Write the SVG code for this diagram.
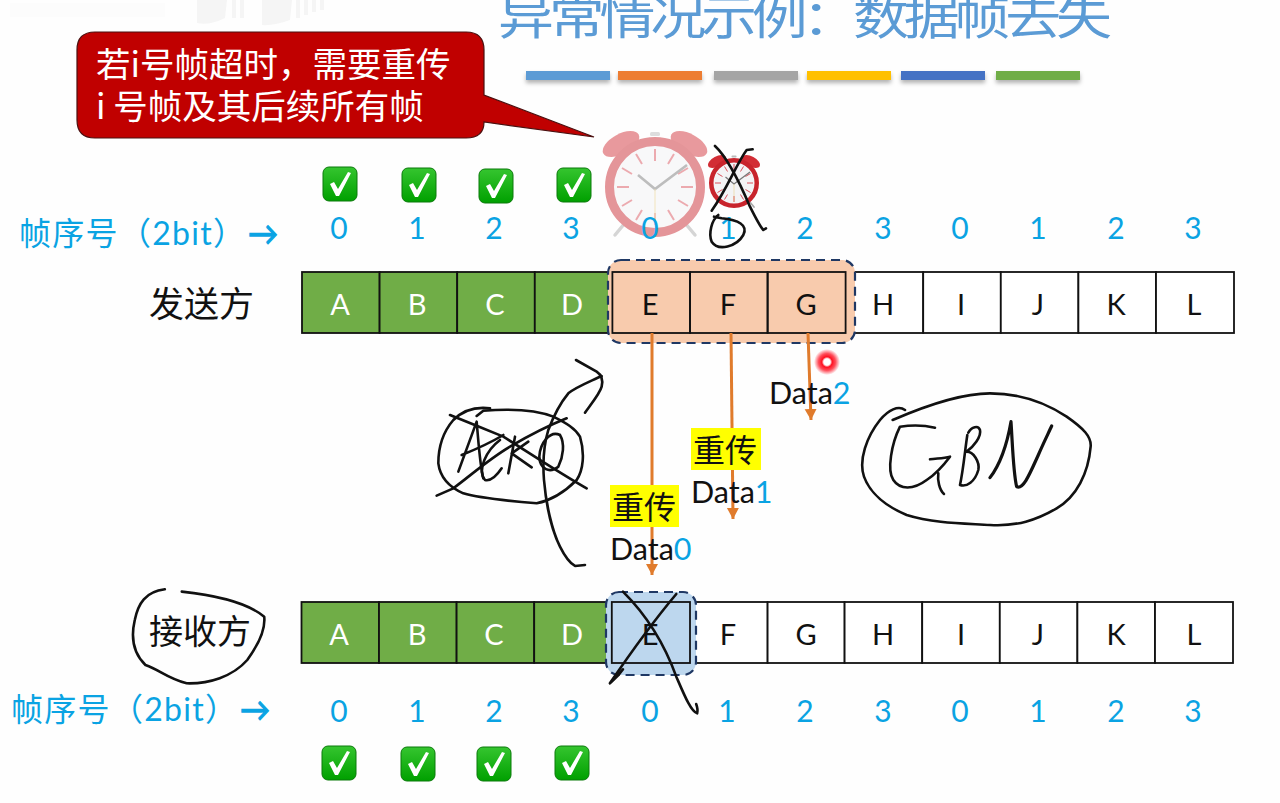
<svg xmlns="http://www.w3.org/2000/svg" xmlns:xlink="http://www.w3.org/1999/xlink" width="1280" height="803" viewBox="0 0 1280 803">
<style>
text{font-family:"Lato","Noto Sans CJK SC",sans-serif}
.cjk{font-family:"Noto Sans CJK SC",sans-serif}
.cell{stroke:#111;stroke-width:1.8;fill:#fff}
.g{fill:#70AD47}
.o{fill:none}
.lw{font-size:29px;fill:#fff;text-anchor:middle}
.lb{font-size:29px;fill:#111;text-anchor:middle}
.n{font-size:30px;fill:#0AA3E3;text-anchor:middle}
.d{font-size:30.5px;fill:#111}
.d tspan{fill:#0AA3E3}
.sq{font-size:32px;fill:#0AA3E3}
.sa{font-size:32px;fill:#0AA3E3;stroke:#0AA3E3;stroke-width:1.2}
.ink{fill:none;stroke:#111;stroke-width:2.6;stroke-linecap:round;stroke-linejoin:round;vector-effect:non-scaling-stroke}
.ar{stroke:#E07B2C;stroke-width:3;fill:none;marker-end:url(#ah)}
.bar{filter:url(#sh)}
.dash{stroke:#1F3864;stroke-width:2.2;stroke-dasharray:9 6}
</style>
<defs>
<marker id="ah" markerUnits="userSpaceOnUse" markerWidth="14" markerHeight="14" refX="11" refY="6" orient="auto"><path d="M0,0L11,6L0,12z" fill="#E07B2C"/></marker>
<filter id="sh" x="-10%" y="-40%" width="120%" height="220%"><feDropShadow dx="0" dy="3" stdDeviation="2" flood-color="#000" flood-opacity=".3"/></filter>
<linearGradient id="chkg" x1="0" y1="0" x2="0" y2="1"><stop offset="0" stop-color="#35C52F"/><stop offset="1" stop-color="#00A000"/></linearGradient>
<radialGradient id="dot"><stop offset="0" stop-color="#fff"/><stop offset=".25" stop-color="#fff"/><stop offset=".4" stop-color="#FF1020"/><stop offset=".65" stop-color="#FF2030" stop-opacity=".8"/><stop offset="1" stop-color="#FF2030" stop-opacity="0"/></radialGradient>
<g id="chk"><rect x="0" y="0" width="34" height="34" rx="6" fill="url(#chkg)" stroke="#0A7A0A" stroke-width="1"/><path d="M7,17 L11,15 L15,22 L25,5 L28,6 L16,29 L13,29z" fill="#fff"/></g>
<g id="clock">
<ellipse cx="-34" cy="-43" rx="20" ry="10" transform="rotate(-28 -34 -43)" fill="#D22D35"/>
<ellipse cx="34" cy="-43" rx="20" ry="10" transform="rotate(28 34 -43)" fill="#D22D35"/>
<rect x="-5" y="-55" width="10" height="4" rx="1.5" fill="#bbb"/>
<path d="M-30,36L-40,48M30,36L40,48" stroke="#aaa" stroke-width="3.5" stroke-linecap="round"/>
<circle r="45.5" fill="#F3F3F5" stroke="#C8242C" stroke-width="9"/>
<path d="M0,-38V-26M0,38V26M-38,0H-26M38,0H26M-19,-33L-13,-23M19,-33L13,-23M-33,-19L-23,-13M33,-19L23,-13M-19,33L-13,23M19,33L13,23M-33,19L-23,13M33,19L23,13" stroke="#D9505A" stroke-width="2"/>
<path d="M-17,-12L0,2L32,-22" stroke="#777" stroke-width="2.6" fill="none"/>
<path d="M0,2V38" stroke="#E6C878" stroke-width="1"/>
</g>
</defs>
<rect width="1280" height="803" fill="#FEFEFE"/>
<g id="watermark" fill="#F5F5F5">
<path d="M197,0h30l-2,18q-16,8 -28,5zM232,0h4v18h-4zM240,0h4v18h-4zM262,0h30l-2,20q-16,6 -28,5zM296,0h4v18h-4zM304,0h4v15h-4zM312,0h4v12h-4zM320,0h4v10h-4z"/>
<rect x="10" y="3" width="155" height="14" fill="#FCFCFC"/>
</g>

<g id="title">
<text class="cjk" transform="translate(498,34) scale(1,.85)" x="0" y="0" font-size="56" fill="#5B9BD5" textLength="614" lengthAdjust="spacing">异常情况示例：数据帧去失</text>
<g>
<rect class="bar" x="526" y="71" width="84" height="9" fill="#5B9BD5"/>
<rect class="bar" x="618" y="71" width="84" height="9" fill="#ED7D31"/>
<rect class="bar" x="714" y="71" width="84" height="9" fill="#A5A5A5"/>
<rect class="bar" x="807" y="71" width="84" height="9" fill="#FFC000"/>
<rect class="bar" x="901" y="71" width="84" height="9" fill="#4472C4"/>
<rect class="bar" x="996" y="71" width="84" height="9" fill="#70AD47"/>
</g>
</g>

<g id="callout">
<path d="M95,32H466Q484,32 484,50V95L594,137L484,122Q484,138 466,138H95Q77,138 77,120V50Q77,32 95,32z" fill="#C00000" stroke="#4A1010" stroke-width="1.2"/>
<text class="cjk" x="96" y="77" font-size="34.5" fill="#fff">若i号帧超时，需要重传</text>
<text class="cjk" x="96" y="119" font-size="34.5" fill="#fff">i 号帧及其后续所有帧</text>
</g>

<g id="timer-big" opacity=".48"><use xlink:href="#clock" href="#clock" transform="translate(655,187)"/></g>
<g id="timer-small"><use xlink:href="#clock" href="#clock" transform="translate(734,183) scale(.5)"/></g>

<g id="checks-top">
<use href="#chk" x="323" y="167"/><use href="#chk" x="402" y="168"/><use href="#chk" x="479" y="169"/><use href="#chk" x="557" y="168"/>
</g>

<g id="seq-top">
<text class="sq" x="19" y="245" textLength="226">帧序号（2bit）</text><text class="sa" x="248" y="245" textLength="30" lengthAdjust="spacingAndGlyphs">→</text>
<text class="n" x="339" y="239">0</text><text class="n" x="417" y="239">1</text><text class="n" x="494" y="239">2</text><text class="n" x="571" y="239">3</text><text class="n" x="650" y="239">0</text><text class="n" x="728" y="239">1</text><text class="n" x="805" y="239">2</text><text class="n" x="883" y="239">3</text><text class="n" x="960" y="239">0</text><text class="n" x="1038" y="239">1</text><text class="n" x="1116" y="239">2</text><text class="n" x="1193" y="239">3</text>
</g>

<g id="sender-label"><text class="cjk" x="149" y="317" font-size="35" fill="#111">发送方</text></g>

<g id="sender-frames">
<g id="s-A"><rect class="cell g" x="302" y="272" width="77.6" height="61"/><text class="lw" x="340" y="315">A</text></g>
<g id="s-B"><rect class="cell g" x="379.6" y="272" width="77.6" height="61"/><text class="lw" x="417" y="315">B</text></g>
<g id="s-C"><rect class="cell g" x="457.2" y="272" width="77.6" height="61"/><text class="lw" x="495" y="315">C</text></g>
<g id="s-D"><rect class="cell g" x="534.8" y="272" width="77.6" height="61"/><text class="lw" x="572" y="315">D</text></g>
<g id="s-H"><rect class="cell" x="845.6" y="272" width="77.6" height="61"/></g>
<g id="s-window"><rect x="608" y="260" width="247" height="83" rx="13" fill="#F8CBAD"/></g>
<g id="s-E"><rect class="cell o" x="612.4" y="272" width="77.6" height="61"/><text class="lb" x="650" y="315">E</text></g>
<g id="s-F"><rect class="cell o" x="690" y="272" width="77.6" height="61"/><text class="lb" x="728" y="315">F</text></g>
<g id="s-G"><rect class="cell o" x="767.6" y="272" width="78" height="61"/><text class="lb" x="806" y="315">G</text></g>
<text class="lb" x="883" y="315">H</text>
<g id="s-I"><rect class="cell" x="923.2" y="272" width="77.6" height="61"/><text class="lb" x="961" y="315">I</text></g>
<g id="s-J"><rect class="cell" x="1000.8" y="272" width="77.6" height="61"/><text class="lb" x="1038" y="315">J</text></g>
<g id="s-K"><rect class="cell" x="1078.4" y="272" width="77.6" height="61"/><text class="lb" x="1116" y="315">K</text></g>
<g id="s-L"><rect class="cell" x="1156" y="272" width="78" height="61"/><text class="lb" x="1194" y="315">L</text></g>
<rect class="dash" x="608" y="260" width="247" height="83" rx="13" fill="none"/>
</g>

<g id="receiver-frames">
<g id="r-A"><rect class="cell g" x="301.5" y="602" width="77.6" height="61"/><text class="lw" x="339" y="645">A</text></g>
<g id="r-B"><rect class="cell g" x="379" y="602" width="77.6" height="61"/><text class="lw" x="417" y="645">B</text></g>
<g id="r-C"><rect class="cell g" x="456.6" y="602" width="77.6" height="61"/><text class="lw" x="494" y="645">C</text></g>
<g id="r-D"><rect class="cell g" x="534.2" y="602" width="77.6" height="61"/><text class="lw" x="572" y="645">D</text></g>
<g id="r-F"><rect class="cell" x="690" y="602" width="77.6" height="61"/><text class="lb" x="728" y="645">F</text></g>
<g id="r-window"><rect x="606" y="592" width="90" height="83" rx="13" fill="#BDD7EE"/></g>
<g id="r-E"><rect class="cell o" x="611.8" y="602" width="78.2" height="61"/><text class="lb" x="650" y="645">E</text></g>
<rect class="dash" x="606" y="592" width="90" height="83" rx="13" fill="none"/>
<g id="r-G"><rect class="cell" x="767.6" y="602" width="77" height="61"/><text class="lb" x="806" y="645">G</text></g>
<g id="r-H"><rect class="cell" x="844.6" y="602" width="77.6" height="61"/><text class="lb" x="883" y="645">H</text></g>
<g id="r-I"><rect class="cell" x="922.2" y="602" width="77.6" height="61"/><text class="lb" x="961" y="645">I</text></g>
<g id="r-J"><rect class="cell" x="999.8" y="602" width="77.6" height="61"/><text class="lb" x="1038" y="645">J</text></g>
<g id="r-K"><rect class="cell" x="1077.4" y="602" width="77.6" height="61"/><text class="lb" x="1116" y="645">K</text></g>
<g id="r-L"><rect class="cell" x="1155" y="602" width="78" height="61"/><text class="lb" x="1194" y="645">L</text></g>
</g>

<g id="receiver-label"><text class="cjk" x="149" y="644" font-size="34" fill="#111">接收方</text></g>

<g id="seq-bottom">
<text class="sq" x="11" y="721" textLength="226">帧序号（2bit）</text><text class="sa" x="240" y="721" textLength="30" lengthAdjust="spacingAndGlyphs">→</text>
<text class="n" x="339" y="722">0</text><text class="n" x="417" y="722">1</text><text class="n" x="494" y="722">2</text><text class="n" x="571" y="722">3</text><text class="n" x="650" y="722">0</text><text class="n" x="727" y="722">1</text><text class="n" x="805" y="722">2</text><text class="n" x="883" y="722">3</text><text class="n" x="960" y="722">0</text><text class="n" x="1038" y="722">1</text><text class="n" x="1116" y="722">2</text><text class="n" x="1193" y="722">3</text>
</g>

<g id="checks-bottom">
<use href="#chk" x="322" y="746"/><use href="#chk" x="401" y="747"/><use href="#chk" x="477" y="747"/><use href="#chk" x="555" y="746"/>
</g>

<g id="connectors">
<path class="ar" d="M652,333V575"/>
<path class="ar" d="M731,333L733,519"/>
<path class="ar" d="M808,333L811,420"/>
</g>

<g id="resend0"><rect x="610" y="485" width="69" height="42" fill="#FFFF00"/><text class="cjk" x="612" y="519" font-size="32" fill="#111">重传</text></g>
<g id="resend1"><rect x="691" y="428" width="70" height="42" fill="#FFFF00"/><text class="cjk" x="693" y="462" font-size="32" fill="#111">重传</text></g>
<g id="data0"><text class="d" x="610" y="560">Data<tspan>0</tspan></text></g>
<g id="data1"><text class="d" x="691" y="503">Data<tspan>1</tspan></text></g>
<g id="data2"><text class="d" x="769" y="404">Data<tspan>2</tspan></text></g>

<circle id="pointer" cx="827" cy="362" r="13" fill="url(#dot)"/>

<g id="ink-ack" transform="translate(420,340) scale(.3333)">
<path class="ink" d="M210,205C170,200 130,210 100,240C70,275 55,320 55,370C60,410 85,440 130,460C180,475 290,485 350,490C400,480 440,450 470,420C490,390 495,340 480,290C465,265 440,250 400,230C350,210 280,205 190,212L170,228"/>
<path class="ink" d="M90,225C140,245 200,270 250,290C330,340 420,400 500,445"/>
<path class="ink" d="M50,467L100,445C160,400 210,355 270,320C330,285 390,255 440,235"/>
<path class="ink" d="M115,395L170,245C175,300 180,380 190,415M125,345C150,335 200,315 250,285"/>
<path class="ink" d="M240,300C200,330 170,390 195,420C215,425 235,400 245,385"/>
<path class="ink" d="M285,290L265,400M325,305L275,340L335,382"/>
<path class="ink" d="M420,285C390,270 360,310 358,350C360,390 390,400 415,380C430,350 435,310 420,285"/>
<path class="ink" d="M495,218C515,190 540,160 545,140C550,120 545,105 530,95L468,60"/>
<path class="ink" d="M545,108C510,125 470,140 445,160C420,190 400,230 385,270C370,320 368,370 372,420C378,490 395,570 420,620C435,650 450,670 465,678L495,675"/>
</g>

<g id="ink-gbn" transform="translate(850,380) scale(.3333)">
<path class="ink" d="M128,120C220,80 330,40 420,40C520,40 590,70 650,110C700,145 725,170 722,200C715,280 680,350 620,385C560,420 500,440 420,435C340,430 250,430 170,405C110,380 60,340 42,290C25,240 50,170 90,120C115,90 145,75 165,90"/>
<path class="ink" d="M255,143C220,135 185,135 150,140C125,190 110,270 130,300C150,330 190,330 230,300C260,280 285,250 300,230C280,235 260,235 240,238M265,280C262,300 268,330 282,342"/>
<path class="ink" d="M352,165C345,210 340,270 330,315C350,322 375,305 385,270C390,245 370,215 350,215C370,200 395,170 390,150C385,135 365,140 355,158"/>
<path class="ink" style="stroke-width:3.2" d="M420,293C445,260 470,200 483,125C488,200 490,280 500,320C520,330 540,280 565,225C580,190 595,160 605,138"/>
</g>

<g id="ink-receiver" transform="translate(0,580) scale(.4848,.3333)">
<path class="ink" d="M340,28C300,35 285,70 278,120C270,170 275,220 300,255C330,270 345,295 385,310C430,312 480,290 510,240C530,200 548,150 545,110C520,80 470,50 375,35"/>
<path class="ink" d="M1285,35C1330,100 1370,190 1395,290C1410,340 1425,395 1438,400C1440,390 1438,380 1436,372"/>
<path class="ink" d="M1395,42C1350,120 1300,220 1258,310C1265,300 1275,290 1285,268"/>
</g>

<g id="ink-clock" transform="translate(590,120) scale(.3333)">
<path class="ink" d="M375,78C410,110 450,190 480,260C495,290 510,320 520,330L528,325"/>
<path class="ink" d="M488,88L470,90C440,130 410,210 365,272"/>
<path class="ink" d="M385,285C365,300 355,340 365,365C385,395 440,380 460,345C475,315 445,300 395,295L372,290"/>
</g>
</svg>
